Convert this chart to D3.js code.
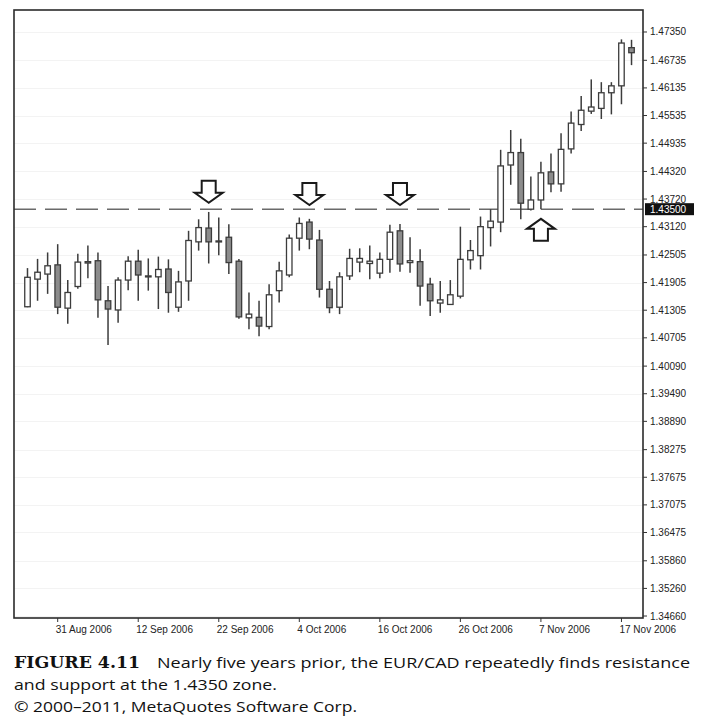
<!DOCTYPE html>
<html><head><meta charset="utf-8">
<script src="https://cdn.jsdelivr.net/npm/d3@7"></script>
<style>body{margin:0;background:#fff}svg{display:block}</style>
</head><body>
<script>
const dates = ["28 Aug 2006","29 Aug 2006","30 Aug 2006","31 Aug 2006","1 Sep 2006","4 Sep 2006","5 Sep 2006","6 Sep 2006","7 Sep 2006","8 Sep 2006","11 Sep 2006","12 Sep 2006","13 Sep 2006","14 Sep 2006","15 Sep 2006","18 Sep 2006","19 Sep 2006","20 Sep 2006","21 Sep 2006","22 Sep 2006","25 Sep 2006","26 Sep 2006","27 Sep 2006","28 Sep 2006","29 Sep 2006","2 Oct 2006","3 Oct 2006","4 Oct 2006","5 Oct 2006","6 Oct 2006","9 Oct 2006","10 Oct 2006","11 Oct 2006","12 Oct 2006","13 Oct 2006","16 Oct 2006","17 Oct 2006","18 Oct 2006","19 Oct 2006","20 Oct 2006","23 Oct 2006","24 Oct 2006","25 Oct 2006","26 Oct 2006","27 Oct 2006","30 Oct 2006","31 Oct 2006","1 Nov 2006","2 Nov 2006","3 Nov 2006","6 Nov 2006","7 Nov 2006","8 Nov 2006","9 Nov 2006","10 Nov 2006","13 Nov 2006","14 Nov 2006","15 Nov 2006","16 Nov 2006","17 Nov 2006","20 Nov 2006"];
const open  = [1.4138,1.4198,1.4209,1.4229,1.4135,1.4182,1.4233,1.4238,1.4151,1.4131,1.4196,1.4237,1.4205,1.4203,1.4220,1.4137,1.4194,1.4279,1.4309,1.4281,1.4289,1.4237,1.4114,1.4115,1.4095,1.4173,1.4207,1.4287,1.4322,1.4283,1.4176,1.4137,1.4205,1.4235,1.4232,1.4211,1.4241,1.4303,1.4234,1.4236,1.4187,1.4146,1.4143,1.4161,1.4240,1.4249,1.4310,1.4322,1.4446,1.4473,1.4350,1.4370,1.4431,1.4405,1.4481,1.4534,1.4563,1.4569,1.4603,1.4618,1.4701];
const high  = [1.4222,1.4242,1.4256,1.4274,1.4196,1.4253,1.4271,1.4256,1.4183,1.4202,1.4248,1.4262,1.4243,1.4247,1.4241,1.4216,1.4303,1.4328,1.4344,1.4332,1.4317,1.4242,1.4169,1.4151,1.4187,1.4236,1.4295,1.4332,1.4329,1.4305,1.4194,1.4213,1.4264,1.4265,1.4271,1.4256,1.4316,1.4318,1.4289,1.4263,1.4201,1.4194,1.4196,1.4312,1.4283,1.4334,1.4350,1.4479,1.4522,1.4503,1.4421,1.4453,1.4471,1.4515,1.4562,1.4596,1.4632,1.4626,1.4626,1.4719,1.4718];
const low   = [1.4137,1.4151,1.4166,1.4122,1.4101,1.4177,1.4200,1.4114,1.4055,1.4103,1.4174,1.4151,1.4173,1.4133,1.4125,1.4127,1.4151,1.4260,1.4232,1.4250,1.4209,1.4112,1.4089,1.4074,1.4089,1.4147,1.4202,1.4260,1.4263,1.4158,1.4124,1.4122,1.4196,1.4213,1.4198,1.4200,1.4212,1.4214,1.4212,1.4140,1.4118,1.4125,1.4142,1.4156,1.4219,1.4219,1.4269,1.4300,1.4403,1.4328,1.4347,1.4350,1.4387,1.4388,1.4471,1.4520,1.4557,1.4546,1.4556,1.4578,1.4663];
const close = [1.4202,1.4213,1.4227,1.4137,1.4169,1.4235,1.4236,1.4153,1.4133,1.4196,1.4237,1.4207,1.4204,1.4219,1.4169,1.4192,1.4282,1.4310,1.4279,1.4280,1.4234,1.4116,1.4122,1.4096,1.4164,1.4216,1.4287,1.4319,1.4285,1.4176,1.4136,1.4203,1.4243,1.4243,1.4237,1.4241,1.4300,1.4231,1.4238,1.4183,1.4151,1.4153,1.4164,1.4241,1.4260,1.4312,1.4324,1.4444,1.4473,1.4363,1.4370,1.4429,1.4405,1.4480,1.4537,1.4565,1.4572,1.4603,1.4618,1.4711,1.4690];
const yTickLabels = ["1.47350","1.46735","1.46135","1.45535","1.44935","1.44320","1.43720","1.43120","1.42505","1.41905","1.41305","1.40705","1.40090","1.39490","1.38890","1.38275","1.37675","1.37075","1.36475","1.35860","1.35260","1.34660"];
const xTickLabels = ["31 Aug 2006","12 Sep 2006","22 Sep 2006","4 Oct 2006","16 Oct 2006","26 Oct 2006","7 Nov 2006","17 Nov 2006"];
const levelValue = 1.4350;
const levelLabel = "1.43500";
const arrowDates = ["21 Sep 2006","5 Oct 2006","18 Oct 2006","7 Nov 2006"];
const arrowDirs = ["down","down","down","up"];
const arrowTips = [1.4364,1.4359,1.4359,1.4329];
const captionLines = ["Nearly five years prior, the EUR/CAD repeatedly finds resistance","and support at the 1.4350 zone.","© 2000–2011, MetaQuotes Software Corp."];

const W = 726, H = 720;
const L = 14, R = 643, T = 10, B = 618;
const svg = d3.select("body").append("svg").attr("width", W).attr("height", H);

const idx = d3.range(dates.length);
const x = d3.scaleLinear().domain([-1.34, 61.14]).range([L, R]);
const y = d3.scaleLinear().domain([1.34617, 1.47828]).range([B, T]);
const xi = d => x(dates.indexOf(d));

// faint grid
svg.append("g").selectAll("line").data(yTickLabels).join("line")
  .attr("x1", L).attr("x2", R)
  .attr("y1", d => Math.round(y(+d)) + 0.5).attr("y2", d => Math.round(y(+d)) + 0.5)
  .attr("stroke", "#f3f3f3").attr("stroke-width", 1);

// level line
svg.append("line").attr("x1", L).attr("x2", R)
  .attr("y1", y(levelValue)).attr("y2", y(levelValue))
  .attr("stroke", "#6a6a6a").attr("stroke-width", 1.4)
  .attr("stroke-dasharray", "22,9");

// candles
const g = svg.append("g");
g.selectAll("line.wick").data(idx).join("line").attr("class", "wick")
  .attr("x1", i => x(i)).attr("x2", i => x(i))
  .attr("y1", i => y(high[i])).attr("y2", i => y(low[i]))
  .attr("stroke", "#3c3c3c").attr("stroke-width", 1.5);
const bw = 5.5;
g.selectAll("rect.body").data(idx).join("rect").attr("class", "body")
  .attr("x", i => x(i) - bw / 2).attr("width", bw)
  .attr("y", i => y(Math.max(open[i], close[i])))
  .attr("height", i => Math.max(1, Math.abs(y(open[i]) - y(close[i]))))
  .attr("fill", i => close[i] >= open[i] ? "#ffffff" : "#8c8c8c")
  .attr("stroke", "#3c3c3c").attr("stroke-width", 1.3);

// arrows
const aw = 28, sw = 14, sh = 12, hh = 10;
arrowDates.forEach((d, k) => {
  const cx = xi(d), ty = y(arrowTips[k]);
  let pts;
  if (arrowDirs[k] === "down") {
    pts = [[cx, ty], [cx - aw / 2, ty - hh], [cx - sw / 2, ty - hh], [cx - sw / 2, ty - hh - sh],
           [cx + sw / 2, ty - hh - sh], [cx + sw / 2, ty - hh], [cx + aw / 2, ty - hh]];
  } else {
    pts = [[cx, ty], [cx - aw / 2, ty + hh], [cx - sw / 2, ty + hh], [cx - sw / 2, ty + hh + sh],
           [cx + sw / 2, ty + hh + sh], [cx + sw / 2, ty + hh], [cx + aw / 2, ty + hh]];
  }
  svg.append("polygon").attr("points", pts.map(p => p.join(",")).join(" "))
    .attr("fill", "#fff").attr("stroke", "#1a1a1a").attr("stroke-width", 2)
    .attr("stroke-linejoin", "miter");
});

// frame
svg.append("rect").attr("x", L).attr("y", T).attr("width", R - L).attr("height", B - T)
  .attr("fill", "none").attr("stroke", "#2b2b2b").attr("stroke-width", 1.6);

// y axis
const yAxis = svg.append("g").attr("transform", `translate(${R},0)`);
yAxis.selectAll("line").data(yTickLabels).join("line")
  .attr("x1", 0).attr("x2", 4)
  .attr("y1", d => y(+d)).attr("y2", d => y(+d))
  .attr("stroke", "#333").attr("stroke-width", 1);
yAxis.selectAll("text").data(yTickLabels).join("text")
  .attr("x", 7).attr("y", d => y(+d)).attr("dy", "0.35em")
  .attr("font-family", "Liberation Sans, Arial, sans-serif").attr("font-size", 10)
  .attr("fill", "#222").text(d => d);

// level label box
const ly = y(levelValue);
svg.append("rect").attr("x", R + 2).attr("y", ly - 6).attr("width", 49).attr("height", 12).attr("fill", "#111");
svg.append("text").attr("x", R + 7).attr("y", ly).attr("dy", "0.35em")
  .attr("font-family", "Liberation Sans, Arial, sans-serif").attr("font-size", 10)
  .attr("fill", "#fff").text(levelLabel);

// x axis
const xAxis = svg.append("g").attr("transform", `translate(0,${B})`);
xAxis.selectAll("line").data(xTickLabels).join("line")
  .attr("x1", d => xi(d)).attr("x2", d => xi(d)).attr("y1", 0).attr("y2", 4)
  .attr("stroke", "#333").attr("stroke-width", 1);
xAxis.selectAll("text").data(xTickLabels).join("text")
  .attr("x", d => xi(d) - 2).attr("y", 15)
  .attr("font-family", "Liberation Sans, Arial, sans-serif").attr("font-size", 10)
  .attr("fill", "#222").text(d => d);

// caption
const cap = svg.append("g");
cap.append("text").attr("x", 14).attr("y", 668)
  .attr("font-family", "DejaVu Serif, serif").attr("font-weight", "bold").attr("font-size", 16)
  .attr("textLength", 126).attr("lengthAdjust", "spacingAndGlyphs")
  .attr("fill", "#111").text("FIGURE 4.11");
cap.append("text").attr("x", 157).attr("y", 668)
  .attr("font-family", "Open Sans, sans-serif").attr("font-size", 15)
  .attr("textLength", 533).attr("lengthAdjust", "spacingAndGlyphs")
  .attr("fill", "#111").text(captionLines[0]);
cap.append("text").attr("x", 14).attr("y", 690)
  .attr("font-family", "Open Sans, sans-serif").attr("font-size", 15)
  .attr("textLength", 263).attr("lengthAdjust", "spacingAndGlyphs")
  .attr("fill", "#111").text(captionLines[1]);
cap.append("text").attr("x", 14).attr("y", 712)
  .attr("font-family", "Open Sans, sans-serif").attr("font-size", 15)
  .attr("textLength", 343).attr("lengthAdjust", "spacingAndGlyphs")
  .attr("fill", "#111").text(captionLines[2]);
</script>
</body></html>
